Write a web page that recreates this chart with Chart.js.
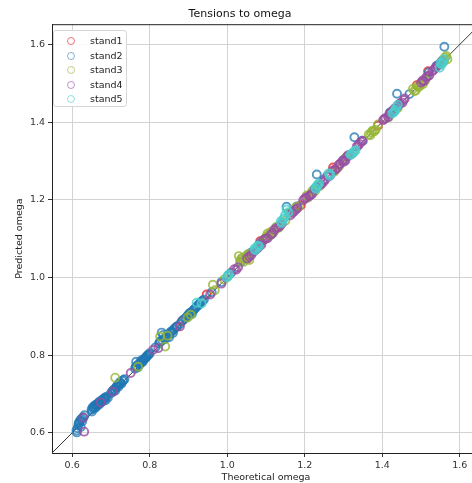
<!DOCTYPE html>
<html>
<head>
<meta charset="utf-8">
<script src="https://cdn.jsdelivr.net/npm/chart.js@4/dist/chart.umd.min.js"></script>
<style>
  html, body { margin: 0; padding: 0; background: #fff; overflow: hidden; }
  #wrap { position: relative; width: 490px; height: 483px; }
  #legend {
    position: absolute; left: 53px; top: 30px; width: 72px; height: 72px;
    border: 1px solid #d6d6d6; border-radius: 3px; background: rgba(255,255,255,0.85);
    font-family: "DejaVu Sans", sans-serif; font-size: 9.5px; color: #222;
    padding-top: 3px; box-sizing: content-box;
  }
  .item { height: 14.5px; line-height: 14.5px; position: relative; }
  .mark {
    position: absolute; left: 13px; top: 3px; width: 6px; height: 6px;
    border-radius: 50%; border: 1.3px solid;
  }
  .label { position: absolute; left: 36px; top: 0; }
</style>
</head>
<body>
<div id="wrap">
  <canvas id="chart" width="490" height="483"></canvas>
  <div id="legend"></div>
</div>
<script>
// 图例名称与颜色
const seriesNames = ['stand1', 'stand2', 'stand3', 'stand4', 'stand5'];
const seriesColors = ['rgba(228,30,30,0.75)', 'rgba(31,119,180,0.75)', 'rgba(150,182,52,0.8)', 'rgba(152,78,163,0.8)', 'rgba(72,209,204,0.8)'];
const legendColors = ['rgba(228,30,30,0.6)', 'rgba(31,119,180,0.55)', 'rgba(150,182,52,0.6)', 'rgba(152,78,163,0.6)', 'rgba(72,209,204,0.6)'];

// 坐标轴刻度
const tickValues = [0.6, 0.8, 1.0, 1.2, 1.4, 1.6];
const axisMin = 0.548;
const axisMax = 1.652;

// 对角线 y = x
const diagX = [0.5, 1.7];
const diagY = [0.5, 1.7];

// stand1
const stand1X = [0.870, 0.883, 0.947, 1.052, 1.085, 1.190, 1.273, 1.278, 1.389, 1.489, 1.518];
const stand1Y = [0.873, 0.887, 0.956, 1.048, 1.093, 1.186, 1.283, 1.278, 1.391, 1.495, 1.531];

// stand2
const stand2X = [0.612, 0.614, 0.616, 0.619, 0.622, 0.625, 0.628, 0.632, 0.650, 0.653, 0.656, 0.660, 0.663, 0.667,
  0.670, 0.673, 0.676, 0.680, 0.684, 0.688, 0.692, 0.700, 0.705, 0.709, 0.713, 0.717, 0.721, 0.725, 0.730, 0.735,
  0.762, 0.765, 0.766, 0.772, 0.776, 0.780, 0.784, 0.788, 0.792, 0.796, 0.800, 0.815, 0.824, 0.828, 0.831, 0.835,
  0.838, 0.843, 0.848, 0.853, 0.858, 0.862, 0.870, 0.878, 0.885, 0.895, 0.901, 0.906, 0.912, 0.918, 0.925, 0.932,
  0.940, 0.960, 0.985, 1.010, 1.035, 1.060, 1.085, 1.100, 1.153, 1.180, 1.231, 1.250, 1.300, 1.328, 1.350, 1.420,
  1.438, 1.470, 1.520, 1.540, 1.560,
  0.611, 0.617, 0.621, 0.626, 0.651, 0.655, 0.659, 0.662, 0.665, 0.669, 0.672, 0.675, 0.679, 0.683, 0.686,
  0.703, 0.707, 0.711, 0.715, 0.719, 0.723, 0.727, 0.732, 0.764, 0.769, 0.774, 0.778, 0.782, 0.786, 0.790, 0.794, 0.798,
  0.826, 0.833, 0.840, 0.845, 0.850, 0.855, 0.860, 0.865, 0.891, 0.898, 0.903, 0.909, 0.915, 0.921, 0.928, 0.936];
const stand2Y = [0.601, 0.612, 0.620, 0.628, 0.615, 0.636, 0.640, 0.645, 0.660, 0.666, 0.668, 0.672, 0.670, 0.676,
  0.680, 0.678, 0.684, 0.686, 0.690, 0.693, 0.690, 0.702, 0.708, 0.712, 0.716, 0.722, 0.725, 0.728, 0.733, 0.738,
  0.765, 0.783, 0.772, 0.778, 0.780, 0.784, 0.788, 0.792, 0.796, 0.800, 0.805, 0.820, 0.830, 0.836, 0.858, 0.852,
  0.843, 0.848, 0.852, 0.858, 0.862, 0.866, 0.874, 0.880, 0.890, 0.898, 0.905, 0.910, 0.915, 0.921, 0.928, 0.936,
  0.943, 0.962, 0.988, 1.012, 1.040, 1.063, 1.088, 1.102, 1.182, 1.183, 1.265, 1.252, 1.303, 1.361, 1.352, 1.425,
  1.473, 1.472, 1.528, 1.545, 1.594,
  0.606, 0.625, 0.633, 0.630, 0.655, 0.662, 0.664, 0.667, 0.674, 0.672, 0.676, 0.680, 0.682, 0.688, 0.684,
  0.706, 0.710, 0.708, 0.720, 0.718, 0.730, 0.726, 0.736, 0.770, 0.768, 0.776, 0.786, 0.782, 0.790, 0.794, 0.799, 0.802,
  0.834, 0.838, 0.842, 0.850, 0.846, 0.860, 0.857, 0.870, 0.894, 0.902, 0.908, 0.906, 0.918, 0.925, 0.932, 0.940];

// stand3
const stand3X = [0.711, 0.770, 0.827, 0.840, 0.846, 0.898, 0.906, 0.963, 0.968, 0.992, 1.030, 1.036, 1.042, 1.047,
  1.053, 1.057, 1.095, 1.104, 1.110, 1.118, 1.126, 1.133, 1.150, 1.160, 1.176, 1.186, 1.205, 1.214, 1.222, 1.238,
  1.276, 1.289, 1.306, 1.323, 1.365, 1.372, 1.379, 1.389, 1.416, 1.440, 1.479, 1.486, 1.494, 1.505, 1.511, 1.548,
  1.556, 1.562, 1.568,
  1.033, 1.039, 1.045, 1.050, 1.100, 1.107, 1.114, 1.122, 1.208, 1.218, 1.226, 1.369, 1.375, 1.383,
  1.483, 1.490, 1.498, 1.552, 1.559, 1.565];
const stand3Y = [0.742, 0.770, 0.848, 0.822, 0.850, 0.897, 0.904, 0.981, 0.967, 0.995, 1.055, 1.048, 1.040, 1.052,
  1.060, 1.045, 1.098, 1.113, 1.108, 1.115, 1.130, 1.128, 1.146, 1.166, 1.180, 1.184, 1.211, 1.213, 1.225, 1.235,
  1.272, 1.287, 1.309, 1.320, 1.368, 1.373, 1.376, 1.394, 1.412, 1.436, 1.485, 1.481, 1.490, 1.498, 1.508, 1.548,
  1.560, 1.566, 1.562,
  1.042, 1.050, 1.047, 1.056, 1.104, 1.110, 1.118, 1.120, 1.205, 1.220, 1.222, 1.366, 1.378, 1.380,
  1.480, 1.492, 1.494, 1.554, 1.556, 1.570];

// stand4
const stand4X = [0.631, 0.629, 0.674, 0.705, 0.751, 0.809, 0.822, 0.878, 0.956, 0.985, 1.002, 1.018, 1.028, 1.051,
  1.062, 1.068, 1.074, 1.083, 1.092, 1.104, 1.113, 1.121, 1.132, 1.141, 1.163, 1.172, 1.181, 1.196, 1.204, 1.211,
  1.219, 1.226, 1.243, 1.252, 1.258, 1.266, 1.271, 1.284, 1.291, 1.297, 1.305, 1.312, 1.318, 1.334, 1.341, 1.348,
  1.402, 1.408, 1.415, 1.421, 1.427, 1.433, 1.440, 1.446, 1.452, 1.458, 1.500, 1.507, 1.513, 1.521, 1.529, 1.537,
  1.546, 1.553,
  1.023, 1.057, 1.079, 1.088, 1.098, 1.117, 1.127, 1.137, 1.168, 1.177, 1.200, 1.215, 1.231, 1.247, 1.262, 1.279,
  1.288, 1.301, 1.309, 1.338, 1.345, 1.405, 1.418, 1.430, 1.437, 1.443, 1.455, 1.504, 1.517, 1.533, 1.541, 1.550];
const stand4Y = [0.603, 0.639, 0.678, 0.706, 0.754, 0.814, 0.818, 0.874, 0.956, 0.984, 1.004, 1.021, 1.026, 1.049,
  1.058, 1.066, 1.071, 1.080, 1.095, 1.101, 1.110, 1.123, 1.129, 1.139, 1.160, 1.170, 1.178, 1.199, 1.206, 1.209,
  1.215, 1.228, 1.240, 1.250, 1.262, 1.263, 1.274, 1.282, 1.293, 1.300, 1.301, 1.315, 1.316, 1.337, 1.344, 1.352,
  1.405, 1.410, 1.413, 1.424, 1.430, 1.436, 1.442, 1.448, 1.450, 1.461, 1.502, 1.505, 1.515, 1.520, 1.531, 1.540,
  1.548, 1.556,
  1.020, 1.054, 1.076, 1.084, 1.099, 1.114, 1.127, 1.134, 1.166, 1.175, 1.203, 1.212, 1.233, 1.245, 1.260, 1.277,
  1.290, 1.298, 1.311, 1.340, 1.349, 1.408, 1.420, 1.427, 1.439, 1.446, 1.457, 1.507, 1.518, 1.535, 1.544, 1.552];

// stand5
const stand5X = [0.921, 0.934, 0.999, 1.004, 1.070, 1.076, 1.082, 1.138, 1.144, 1.149, 1.153, 1.158, 1.227, 1.231,
  1.236, 1.262, 1.266, 1.318, 1.325, 1.331, 1.426, 1.432, 1.436, 1.440, 1.548, 1.553, 1.556, 1.559,
  1.002, 1.073, 1.079, 1.141, 1.147, 1.229, 1.233, 1.264, 1.321, 1.328, 1.429, 1.434, 1.550, 1.554];
const stand5Y = [0.935, 0.933, 1.000, 1.008, 1.074, 1.077, 1.080, 1.144, 1.149, 1.160, 1.175, 1.168, 1.231, 1.235,
  1.242, 1.268, 1.265, 1.316, 1.321, 1.327, 1.422, 1.428, 1.438, 1.444, 1.540, 1.548, 1.556, 1.562,
  1.004, 1.070, 1.082, 1.140, 1.152, 1.228, 1.238, 1.262, 1.318, 1.325, 1.425, 1.432, 1.552, 1.552];

const allX = [stand1X, stand2X, stand3X, stand4X, stand5X];
const allY = [stand1Y, stand2Y, stand3Y, stand4Y, stand5Y];

function toPoints(xs, ys) {
  return xs.map((x, i) => ({ x: x, y: ys[i] }));
}

const datasets = seriesNames.map((name, i) => ({
  type: 'scatter',
  label: name,
  data: toPoints(allX[i], allY[i]),
  borderColor: seriesColors[i],
  backgroundColor: 'rgba(0,0,0,0)',
  pointRadius: 4,
  pointBorderWidth: 1.9,
  order: 10 - i
}));

datasets.push({
  type: 'line',
  label: 'diag',
  data: toPoints(diagX, diagY),
  borderColor: '#333',
  borderWidth: 1,
  pointRadius: 0,
  order: 20
});

// 上边框和右边框
const boxPlugin = {
  id: 'box',
  afterDraw(chart) {
    const { ctx, chartArea } = chart;
    ctx.save();
    ctx.strokeStyle = '#222';
    ctx.lineWidth = 1;
    ctx.beginPath();
    ctx.moveTo(chartArea.left, chartArea.top + 0.5);
    ctx.lineTo(chartArea.right, chartArea.top + 0.5);
    ctx.lineTo(chartArea.right, chartArea.bottom);
    ctx.stroke();
    ctx.restore();
  }
};

const fontFamily = '"DejaVu Sans", sans-serif';

function axisOptions(title, isY) {
  return {
    type: 'linear',
    min: axisMin,
    max: axisMax,
    afterBuildTicks: scale => { scale.ticks = tickValues.map(v => ({ value: v })); },
    afterFit: scale => {
      if (isY) scale.width = 52; else scale.height = 30;
    },
    ticks: {
      color: '#333',
      font: { family: fontFamily, size: 9.5 },
      padding: 3,
      callback: v => Number(v).toFixed(1)
    },
    grid: {
      color: '#d3d3d3',
      lineWidth: 1,
      tickColor: '#333',
      tickLength: 4
    },
    border: { color: '#222', width: 1 },
    title: {
      display: true,
      text: title,
      color: '#222',
      font: { family: fontFamily, size: 9.5 },
      padding: isY ? { top: 14, bottom: 0 } : { top: 0, bottom: 0 }
    }
  };
}

new Chart(document.getElementById('chart').getContext('2d'), {
  data: { datasets: datasets },
  plugins: [boxPlugin],
  options: {
    responsive: false,
    animation: false,
    devicePixelRatio: 1,
    layout: { padding: { left: 0, right: 10, top: 0, bottom: 0 } },
    plugins: {
      legend: { display: false },
      tooltip: { enabled: false },
      title: {
        display: true,
        text: 'Tensions to omega',
        color: '#111',
        font: { family: fontFamily, size: 11, weight: 'normal' },
        padding: { top: 8, bottom: 3 }
      }
    },
    scales: {
      x: axisOptions('Theoretical omega', false),
      y: axisOptions('Predicted omega', true)
    }
  }
});

// 图例
const legendEl = document.getElementById('legend');
seriesNames.forEach((name, i) => {
  const row = document.createElement('div');
  row.className = 'item';
  row.innerHTML = '<span class="mark" style="border-color:' + legendColors[i] + '"></span><span class="label">' + name + '</span>';
  legendEl.appendChild(row);
});
</script>
</body>
</html>
